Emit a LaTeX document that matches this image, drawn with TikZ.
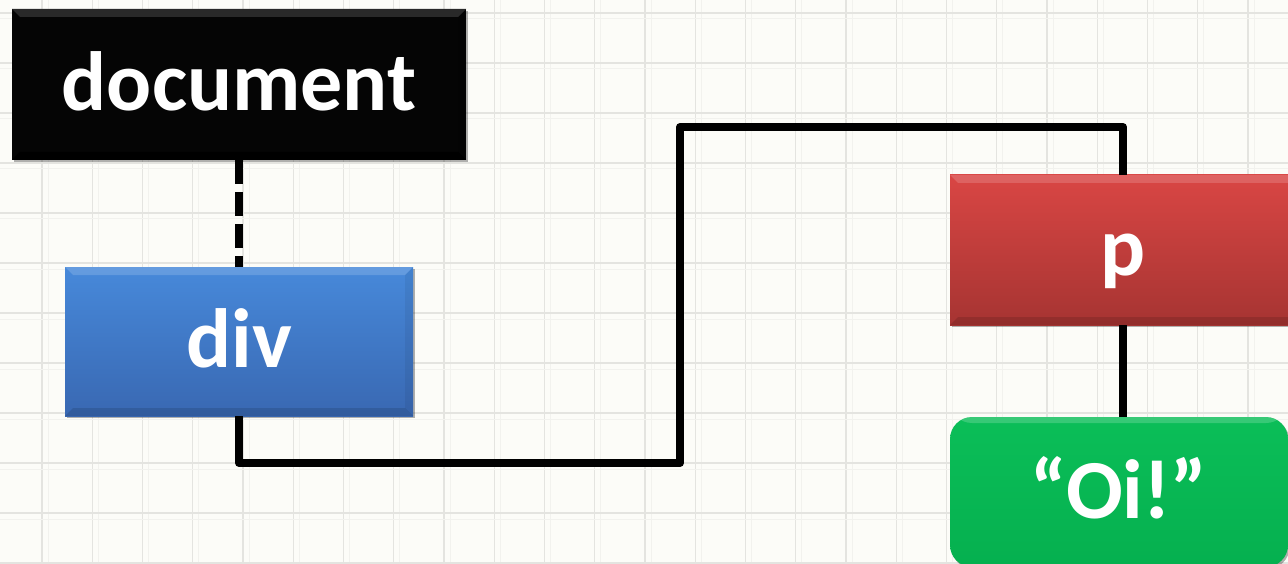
\documentclass[tikz,border=0pt]{standalone}
\usepackage{fontspec}
\setmainfont{Carlito}
\usetikzlibrary{shadows}
\definecolor{bgcol}{HTML}{FCFCF8}
\definecolor{gridcol}{HTML}{E4E4E0}
\definecolor{gridfaint}{HTML}{F2F2EE}
\definecolor{docfill}{HTML}{050505}
\definecolor{divtop}{HTML}{4789DA}
\definecolor{divbot}{HTML}{3968B2}
\definecolor{ptop}{HTML}{D94644}
\definecolor{pbot}{HTML}{A63432}
\definecolor{oitop}{HTML}{0BBE58}
\definecolor{oibot}{HTML}{05B04F}
\tikzset{
  boxtext/.style={text=white, font=\fontsize{84}{84}\selectfont\bfseries,
    text height=59pt, text depth=7pt, inner sep=0pt, anchor=center},
  boxshadow/.style={drop shadow={shadow xshift=1.5pt, shadow yshift=-2pt, opacity=.3, fill=black}},
  bevel/.style 2 args={path picture={
    \fill[#1] (path picture bounding box.north west) -- (path picture bounding box.north east)
      -- ([shift={(-8pt,-8pt)}]path picture bounding box.north east)
      -- ([shift={(8pt,-8pt)}]path picture bounding box.north west) -- cycle;
    \fill[#2] (path picture bounding box.south west) -- (path picture bounding box.south east)
      -- ([shift={(-8pt,8pt)}]path picture bounding box.south east)
      -- ([shift={(8pt,8pt)}]path picture bounding box.south west) -- cycle;
    \fill[#2, opacity=.06] (path picture bounding box.north east) -- ([shift={(-8pt,-8pt)}]path picture bounding box.north east)
      -- ([shift={(-8pt,8pt)}]path picture bounding box.south east) -- (path picture bounding box.south east) -- cycle;
  }},
  conn/.style={draw=black, line width=8pt, line join=round},
  dashconn/.style={draw=black, line width=8pt, dash pattern=on 24pt off 8pt}
}
\begin{document}
\begin{tikzpicture}[x=1pt,y=-1pt]
  % background
  \fill[bgcol] (0,0) rectangle (1288,564);
  \useasboundingbox (0,0) rectangle (1288,564);
  % grid
  \foreach \i in {0,...,25} {
    \draw[gridfaint, line width=1pt] ({42+50.25*\i+6},0) -- ({42+50.25*\i+6},564);
    \draw[gridcol, line width=1.2pt] ({42+50.25*\i},0) -- ({42+50.25*\i},564);
  }
  \foreach \j in {0,...,11} {
    \draw[gridfaint, line width=1pt] (0,{13+50*\j+6}) -- (1288,{13+50*\j+6});
    \draw[gridcol, line width=1.2pt] (0,{13+50*\j}) -- (1288,{13+50*\j});
  }
  % nodes
  \node[boxtext, boxshadow, fill=docfill, minimum width=454pt, minimum height=151pt,
        bevel={white!16!black}{black}] (doc) at (239,84.5) {document};
  \node[boxtext, boxshadow, top color=divtop, bottom color=divbot, minimum width=348pt, minimum height=149pt,
        bevel={white, opacity=.16}{black, opacity=.12}] (div) at (239,341.5) {div};
  \node[boxtext, boxshadow, top color=ptop, bottom color=pbot, minimum width=346pt, minimum height=150pt,
        bevel={white, opacity=.16}{black, opacity=.12}] (p) at (1123,250) {p};
  \node[boxtext, boxshadow, top color=oitop, bottom color=oibot, rounded corners=22pt,
        minimum width=338pt, minimum height=150pt,
        path picture={\fill[white, opacity=.18] ([yshift=-6pt]path picture bounding box.north west) rectangle (path picture bounding box.north east);}] (oi) at (1119,492) {“Oi!”};
  % connectors
  \coordinate (b1) at (680,463);
  \coordinate (b2) at (680,127);
  \draw[dashconn] (doc.south) -- (div.north);
  \draw[conn] (div.south) |- (b1) -- (b2) -| (p.north);
  \draw[conn] (p.south) -- (p.south |- oi.north);
\end{tikzpicture}
\end{document}
